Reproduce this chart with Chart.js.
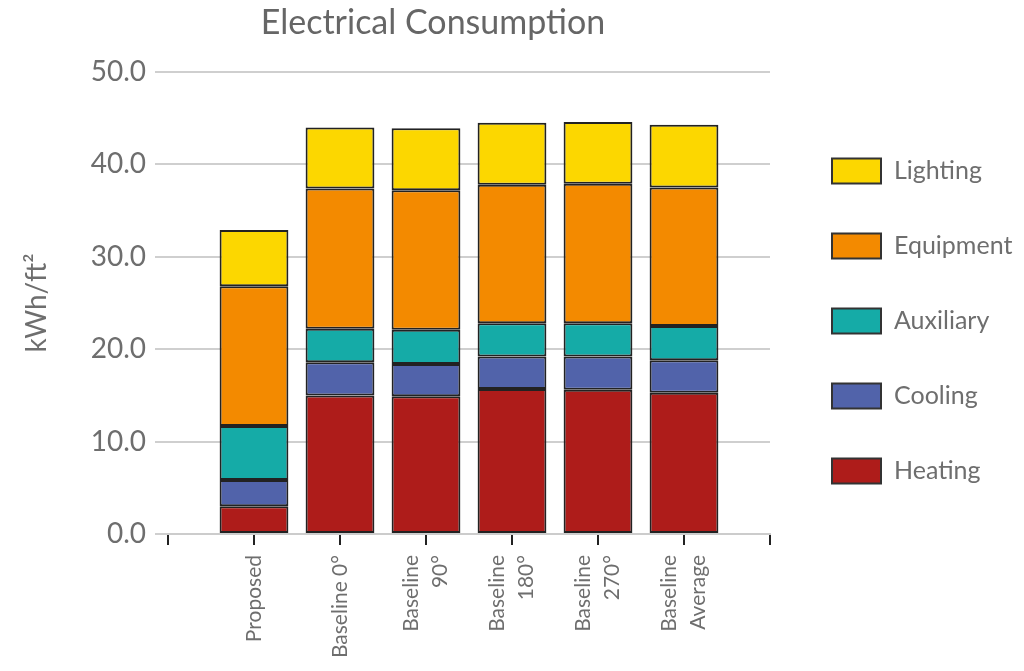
<!DOCTYPE html>
<html>
<head>
<meta charset="utf-8">
<script src="https://cdn.jsdelivr.net/npm/chart.js@4.4.0/dist/chart.umd.min.js"></script>
<style>
  html, body { margin: 0; padding: 0; background: #fff; }
  #wrap { width: 1024px; height: 671px; }
</style>
</head>
<body>
<div id="wrap"><canvas id="c" width="1024" height="671"></canvas></div>
<script>
// Categories (blank entries at both ends mark the empty axis edges)
const categories = ['', 'Proposed', 'Baseline 0°', ['Baseline', '90°'], ['Baseline', '180°'], ['Baseline', '270°'], ['Baseline', 'Average'], ''];

// Series values (kWh/ft²), one per category
const heating   = [null, 3.0, 15.0, 14.9, 15.7, 15.6, 15.3, null];
const cooling   = [null, 2.85, 3.6, 3.5, 3.5, 3.6, 3.5, null];
const auxiliary = [null, 5.85, 3.6, 3.7, 3.6, 3.6, 3.7, null];
const equipment = [null, 15.1, 15.2, 15.1, 15.0, 15.1, 15.0, null];
const lighting  = [null, 6.1, 6.6, 6.7, 6.7, 6.7, 6.8, null];

const yTicks = [0, 10, 20, 30, 40, 50];
const chartTitle = 'Electrical Consumption';

const FONT = 'Lato, "Open Sans", sans-serif';
const TXT = '#6e6e6e';
const XL_SIZE = 21;
const XL_LINE = 29; // px between the two lines of a label

// single-line labels get a blank leading line so every label block centres on its tick
const tickLabels = categories.map(c => Array.isArray(c) ? c : (c === '' ? '' : ['', c]));

const decorPlugin = {
  id: 'decor',
  afterDraw(chart) {
    const ctx = chart.ctx;
    ctx.save();
    // title
    ctx.fillStyle = '#666';
    ctx.font = '34px ' + FONT;
    ctx.textAlign = 'center';
    ctx.textBaseline = 'middle';
    ctx.fillText(chartTitle, 433, 23);
    // legend
    const ds = chart.data.datasets.slice().reverse();
    ds.forEach((d, i) => {
      const cy = 171 + i * 75;
      const x = 832;
      ctx.fillStyle = d.backgroundColor;
      ctx.fillRect(x, cy - 12.5, 49, 25);
      ctx.lineWidth = 2;
      ctx.strokeStyle = '#333';
      ctx.strokeRect(x, cy - 12.5, 49, 25);
      ctx.fillStyle = TXT;
      ctx.font = '25px ' + FONT;
      ctx.textBaseline = 'middle';
      ctx.textAlign = 'left';
      ctx.fillText(d.label, 894, cy);
    });
    ctx.restore();
  }
};

const mk = (label, data, color) => ({
  label, data, backgroundColor: color, borderColor: '#222', borderWidth: 2,
  categoryPercentage: 0.8, barPercentage: 1.0, borderSkipped: false
});

new Chart(document.getElementById('c'), {
  type: 'bar',
  data: {
    labels: tickLabels,
    datasets: [
      mk('Heating', heating, '#AE1C1A'),
      mk('Cooling', cooling, '#5163AA'),
      mk('Auxiliary', auxiliary, '#15ABA7'),
      mk('Equipment', equipment, '#F38A00'),
      mk('Lighting', lighting, '#FCD700')
    ]
  },
  options: {
    responsive: false,
    animation: false,
    layout: { padding: { left: 0, right: 254, top: 72, bottom: 0 } },
    plugins: {
      legend: { display: false },
      tooltip: { enabled: false },
      title: { display: false }
    },
    scales: {
      x: {
        stacked: true,
        offset: false,
        afterFit(s) { s.height = 137; },
        grid: { offset: false, drawOnChartArea: false, drawTicks: true, tickLength: 11, tickColor: '#222', lineWidth: 2 },
        border: { display: true, color: '#ccc', width: 2 },
        ticks: {
          autoSkip: false, maxRotation: 90, minRotation: 90,
          labelOffset: -XL_LINE / 2,
          color: TXT, padding: 10,
          font: (c) => {
            const l = tickLabels[c.index];
            const single = Array.isArray(l) && l[0] === '';
            return { family: FONT, size: XL_SIZE, lineHeight: (single ? XL_LINE / 2 : XL_LINE) + 'px' };
          }
        }
      },
      y: {
        stacked: true,
        min: 0, max: 50,
        afterFit(s) { s.width = 168; },
        afterBuildTicks(s) { s.ticks = yTicks.map(v => ({ value: v })); },
        grid: { color: '#cfcfcf', lineWidth: 2, tickLength: 13 },
        border: { display: false },
        ticks: {
          color: TXT, font: { family: FONT, size: 28 }, padding: 9,
          callback: v => Number(v).toFixed(1)
        },
        title: {
          display: true, text: 'kWh/ft²', color: TXT,
          font: { family: FONT, size: 28 }, padding: { top: 20, bottom: 0 }
        }
      }
    }
  },
  plugins: [decorPlugin]
});
</script>
</body>
</html>
